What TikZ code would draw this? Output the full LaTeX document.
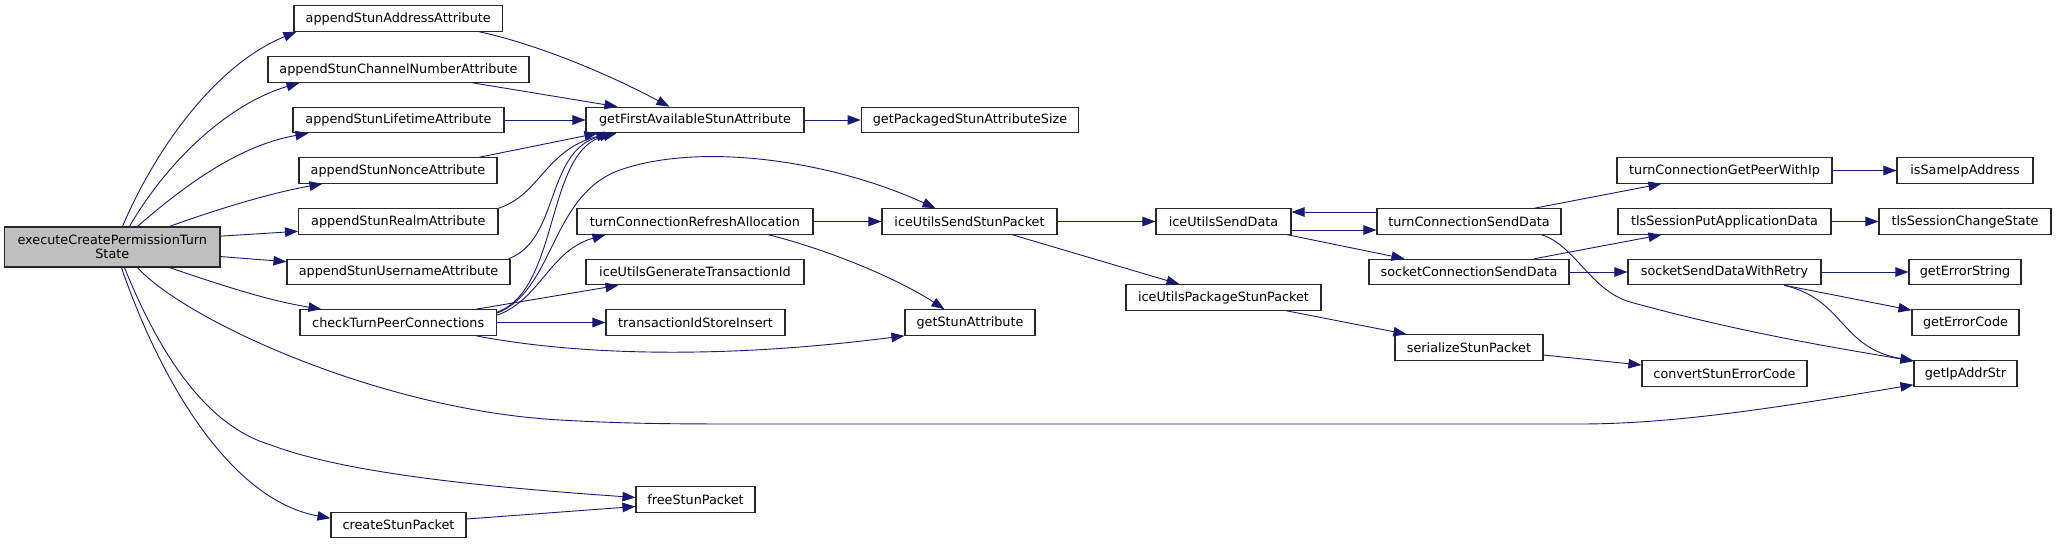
\documentclass[tikz,border=0pt]{standalone}
\usepackage{fontspec}
\setmainfont{DejaVu Sans}
\usetikzlibrary{arrows.meta,calc}
\definecolor{edgeblue}{RGB}{25,25,112}
\definecolor{boxline}{RGB}{40,40,40}
\definecolor{rootfill}{RGB}{191,191,191}
\tikzset{
  fn/.style={draw=boxline, line width=1.1pt, rectangle, inner sep=0pt, minimum height=25.5pt,
    font=\fontsize{12.8}{13.7}\selectfont, text=black, fill=white},
  call/.style={draw=edgeblue, line width=0.9pt, -{Triangle[length=13pt,width=9.5pt]}, fill=none},
}
\begin{document}
\begin{tikzpicture}[x=1pt,y=-1pt]
\path[fill=white,use as bounding box] (0,0) rectangle (2056,544);

% nodes
\node[fn, fill=rootfill, minimum width=215.4pt, minimum height=40pt, align=center] (exec) at (112.3,247) {executeCreatePermissionTurn\\State};
\node[fn, minimum width=208.5pt] (addr) at (398.2,18.5) {appendStunAddressAttribute};
\node[fn, minimum width=261pt] (chan) at (398.5,69.5) {appendStunChannelNumberAttribute};
\node[fn, minimum width=211pt] (life) at (398.5,120) {appendStunLifetimeAttribute};
\node[fn, minimum width=198pt] (nonce) at (398,170.5) {appendStunNonceAttribute};
\node[fn, minimum width=199.4pt] (realm) at (398.3,221.5) {appendStunRealmAttribute};
\node[fn, minimum width=223pt] (user) at (398.5,272) {appendStunUsernameAttribute};
\node[fn, minimum width=196.4pt] (check) at (398.2,322.5) {checkTurnPeerConnections};
\node[fn, minimum width=135pt] (create) at (398.5,525) {createStunPacket};
\node[fn, minimum width=218pt] (getfirst) at (695,120) {getFirstAvailableStunAttribute};
\node[fn, minimum width=236pt] (refresh) at (695,221.5) {turnConnectionRefreshAllocation};
\node[fn, minimum width=218pt] (gentid) at (695,272) {iceUtilsGenerateTransactionId};
\node[fn, minimum width=179pt] (tidins) at (695.5,322.5) {transactionIdStoreInsert};
\node[fn, minimum width=119pt] (free) at (695.5,499.5) {freeStunPacket};
\node[fn, minimum width=217.6pt] (getpack) at (970,120) {getPackagedStunAttributeSize};
\node[fn, minimum width=175pt] (sendstun) at (969.5,221.5) {iceUtilsSendStunPacket};
\node[fn, minimum width=130pt] (getstunattr) at (970,322.5) {getStunAttribute};
\node[fn, minimum width=135pt] (senddata) at (1223.5,221.5) {iceUtilsSendData};
\node[fn, minimum width=195pt] (package) at (1223.5,297.5) {iceUtilsPackageStunPacket};
\node[fn, minimum width=184pt] (turnsend) at (1469,221.5) {turnConnectionSendData};
\node[fn, minimum width=200pt] (socksend) at (1469,272) {socketConnectionSendData};
\node[fn, minimum width=148pt] (serialize) at (1469,347.5) {serializeStunPacket};
\node[fn, minimum width=215pt] (peer) at (1724.5,170.5) {turnConnectionGetPeerWithIp};
\node[fn, minimum width=213pt] (tlsput) at (1724.5,221.5) {tlsSessionPutApplicationData};
\node[fn, minimum width=193pt] (sockretry) at (1724.5,272) {socketSendDataWithRetry};
\node[fn, minimum width=165pt] (convert) at (1724.5,373.5) {convertStunErrorCode};
\node[fn, minimum width=136pt] (samip) at (1965,170.5) {isSameIpAddress};
\node[fn, minimum width=172pt] (tlschange) at (1965,221.5) {tlsSessionChangeState};
\node[fn, minimum width=112pt] (errstr) at (1965,272) {getErrorString};
\node[fn, minimum width=107pt] (errcode) at (1965.5,322.5) {getErrorCode};
\node[fn, minimum width=103pt] (ipaddr) at (1965.5,373.5) {getIpAddrStr};

% edges from executeCreatePermissionTurnState
\draw[call] ($(exec.north west)+(118.4,0)$) .. controls (155,150) and (215,65) .. ($(addr.south west)+(3,0)$);
\draw[call] ($(exec.north west)+(125.4,0)$) .. controls (165,165) and (225,105) .. ($(chan.south west)+(32,0)$);
\draw[call] ($(exec.north west)+(133.4,0)$) .. controls (185,185) and (240,145) .. ($(life.south west)+(16,0)$);
\draw[call] ($(exec.north west)+(165.4,0)$) .. controls (215,210) and (270,193) .. ($(nonce.south west)+(24,0)$);
\draw[call] ($(exec.north east)+(0,9.7)$) -- ($(realm.south west)+(0,-3.5)$);
\draw[call] ($(exec.south east)+(0,-11)$) -- ($(user.north west)+(0,3)$);
\draw[call] ($(exec.south west)+(165.4,0)$) .. controls (215,283) and (265,300) .. ($(check.north west)+(22,0)$);
\draw[call] ($(exec.south west)+(133.4,0)$) .. controls (185,320) and (380,410) .. (560,420) .. controls (630,424) and (680,424) .. (760,424) -- (1580,424) .. controls (1690,424) and (1820,400) .. ($(ipaddr.south west)+(0,-2)$);
\draw[call] ($(exec.south west)+(120.4,0)$) .. controls (170,380) and (220,430) .. (271,445) .. controls (350,475) and (500,488) .. ($(free.west)+(0,-2)$);
\draw[call] ($(exec.south west)+(117.4,0)$) .. controls (160,380) and (230,500) .. ($(create.north west)+(0,6.5)$);
\draw[call] ($(create.east)+(0,-6)$) -- ($(free.west)+(0,7)$);

% into getFirstAvailableStunAttribute
\draw[call] ($(addr.south west)+(186,0)$) .. controls (540,45) and (610,75) .. ($(getfirst.north west)+(84,0)$);
\draw[call] ($(chan.south west)+(205,0)$) -- ($(getfirst.north west)+(32,0)$);
\draw[call] (life.east) -- (getfirst.west);
\draw[call] ($(nonce.north west)+(181,0)$) -- ($(getfirst.south west)+(12,0)$);
\draw[call] (realm.north east) .. controls (540,195) and (545,150) .. ($(getfirst.south west)+(24,0)$);
\draw[call] ($(user.north east)+(-2,0)$) .. controls (560,240) and (545,150) .. ($(getfirst.south west)+(27,0)$);
\draw[call] ($(check.north east)+(0,3)$) .. controls (560,290) and (545,150) .. ($(getfirst.south west)+(31,0)$);
\draw[call] (getfirst.east) -- (getpack.west);

% from checkTurnPeerConnections
\draw[call] ($(check.north east)+(0,4)$) .. controls (555,290) and (550,195) .. (620,170) .. controls (700,142) and (830,160) .. ($(sendstun.north west)+(54,0)$);
\draw[call] ($(check.north east)+(0,6)$) .. controls (540,300) and (550,250) .. ($(refresh.south west)+(29,0)$);
\draw[call] ($(check.north east)+(-21,0)$) -- ($(gentid.south west)+(33,0)$);
\draw[call] (check.east) -- (tidins.west);
\draw[call] ($(check.south east)+(-21,0)$) .. controls (560,352) and (700,362) .. (getstunattr.south west);

% turnConnectionRefreshAllocation
\draw[call] (refresh.east) -- (sendstun.west);
\draw[call] ($(refresh.south west)+(192,0)$) .. controls (830,250) and (900,280) .. ($(getstunattr.north west)+(40,0)$);

% iceUtilsSendStunPacket
\draw[call] (sendstun.east) -- (senddata.west);
\draw[call] ($(sendstun.south west)+(131,0)$) -- ($(package.north west)+(54,0)$);

% iceUtilsSendData / turnConnectionSendData
\draw[call] ($(senddata.east)+(0,8.5)$) -- ($(turnsend.west)+(0,8.5)$);
\draw[call] ($(turnsend.west)+(0,-9.5)$) -- ($(senddata.east)+(0,-9.5)$);
\draw[call] ($(senddata.south east)+(-4,0)$) -- ($(socksend.north west)+(36,0)$);
\draw[call] ($(turnsend.north west)+(158,0)$) -- ($(peer.south west)+(45,0)$);
\draw[call] ($(turnsend.south west)+(165,0)$) .. controls (1575,245) and (1590,290) .. (1630,302) .. controls (1750,335) and (1850,350) .. ($(ipaddr.north west)+(0,1)$);

% socketConnectionSendData
\draw[call] ($(socksend.north west)+(166,0)$) -- ($(tlsput.south west)+(44,0)$);
\draw[call] (socksend.east) -- (sockretry.west);

% socketSendDataWithRetry
\draw[call] (sockretry.east) -- (errstr.west);
\draw[call] ($(sockretry.south west)+(157,0)$) -- ($(errcode.north west)+(0,1)$);
\draw[call] ($(sockretry.south west)+(157,0)$) .. controls (1845,300) and (1840,348) .. ($(ipaddr.north west)+(0,0.5)$);

% others
\draw[call] (peer.east) -- (samip.west);
\draw[call] (tlsput.east) -- (tlschange.west);
\draw[call] ($(package.south west)+(161,0)$) -- ($(serialize.north west)+(12,0)$);
\draw[call] ($(serialize.east)+(0,7.5)$) -- ($(convert.west)+(0,-8.5)$);
\end{tikzpicture}
\end{document}
